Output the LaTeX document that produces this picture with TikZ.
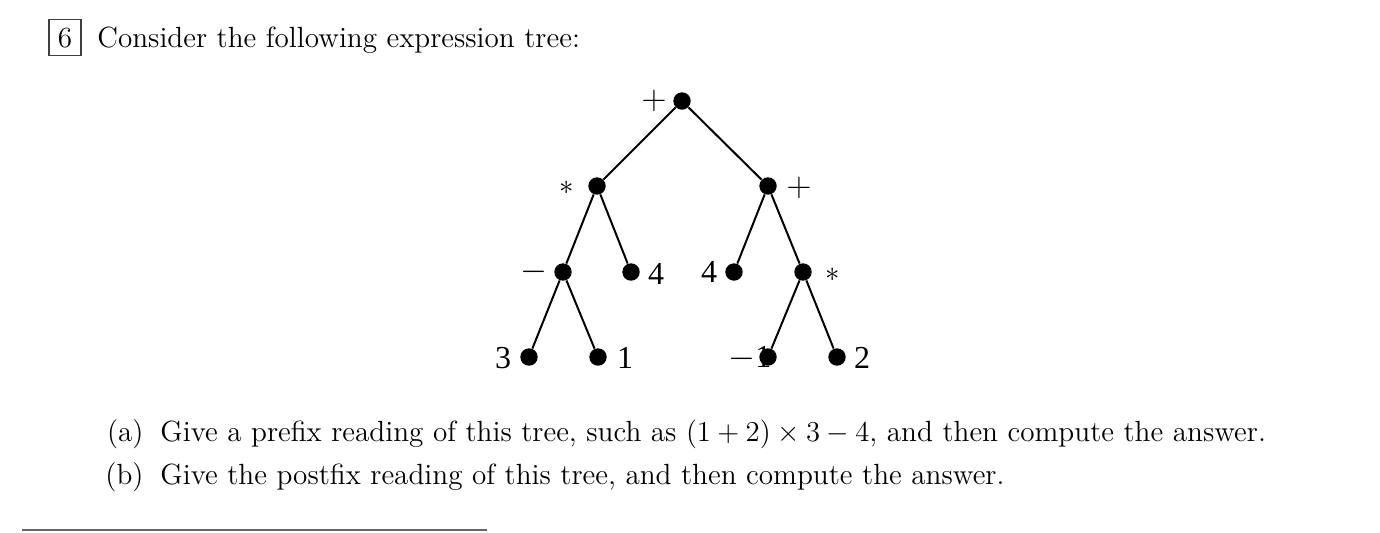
\documentclass[tikz,border=0pt]{standalone}
\usepackage{fontspec}
\newfontfamily\tms{Liberation Serif}
\begin{document}
\begin{tikzpicture}[x=0.5pt,y=-0.5pt,
  dot/.style={circle,fill=black,inner sep=0pt,minimum size=8.7pt},
  edge/.style={line width=1pt},
  lbl/.style={inner sep=0pt,font=\tms\fontsize{16}{16}\selectfont},
  ast/.style={inner sep=0pt,font=\fontsize{14}{14}\selectfont},
  txt/.style={inner sep=0pt,anchor=base west,font=\fontsize{14.6}{17}\selectfont},
  txtr/.style={txt,anchor=base east}]
\useasboundingbox (0,0) rectangle (1380,532);
% header
\draw[black!75,line width=0.6pt] (49,19.5) rectangle (81,55.5);
\node[inner sep=0pt,anchor=base,font=\fontsize{14.6}{17}\selectfont] (num) at (65,47) {6};
\node[txt] (title) at (97,47) {Consider the following expression tree:};
% tree
\node[dot] (r) at (682,101) {};
\node[dot] (m1) at (597,186) {};
\node[dot] (p1) at (768,186) {};
\node[dot] (s1) at (563,272) {};
\node[dot] (f1) at (631,272) {};
\node[dot] (f2) at (734,272) {};
\node[dot] (m2) at (803,272) {};
\node[dot] (t3) at (529,357) {};
\node[dot] (o1) at (598,357) {};
\node[dot] (n1) at (768,357) {};
\node[dot] (w2) at (837,357) {};
\draw[edge] (r) -- (m1);
\draw[edge] (r) -- (p1);
\draw[edge] (m1) -- (s1);
\draw[edge] (m1) -- (f1);
\draw[edge] (p1) -- (f2);
\draw[edge] (p1) -- (m2);
\draw[edge] (s1) -- (t3);
\draw[edge] (s1) -- (o1);
\draw[edge] (m2) -- (n1);
\draw[edge] (m2) -- (w2);
\node[lbl] (lr) at (654,101) {$+$};
\node[ast] (lm1) at (567,188) {$*$};
\node[lbl] (lp1) at (799,188) {$+$};
\node[lbl] (ls1) at (534,272) {$-$};
\node[lbl] (lf1) at (656,274) {4};
\node[lbl] (lf2) at (709,272) {4};
\node[ast] (lm2) at (833,275) {$*$};
\node[lbl] (lt3) at (503,358) {3};
\node[lbl] (lo1) at (625,358) {1};
\node[lbl] (ln1) at (750,358) {$-$1};
\node[lbl] (lw2) at (862,358) {2};
% questions
\node[txtr] (qal) at (144,441) {(a)};
\node[txt] (qa) at (160,441) {Give a prefix reading of this tree, such as $(1+2)\times3-4$, and then compute the answer.};
\node[txtr] (qbl) at (144,484) {(b)};
\node[txt] (qb) at (160,484) {Give the postfix reading of this tree, and then compute the answer.};
% rule
\draw[black!60,line width=1pt] (22,530) -- (487,530);
\end{tikzpicture}
\end{document}
